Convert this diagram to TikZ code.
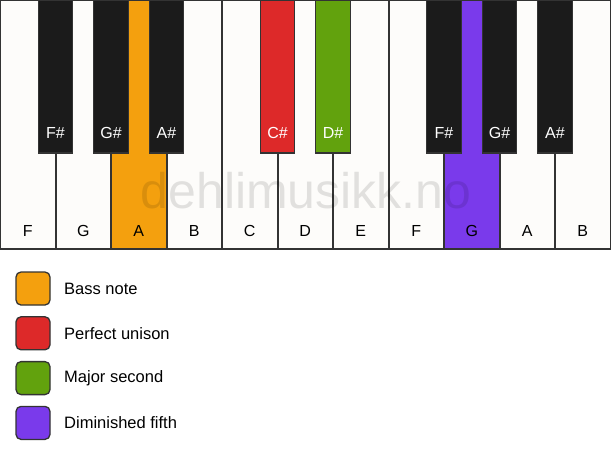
\documentclass[tikz,border=0pt]{standalone}
\usepackage{fontspec}
\setmainfont{Liberation Sans}
\definecolor{keywhite}{HTML}{FDFCFA}
\definecolor{keyblack}{HTML}{1B1B1B}
\definecolor{keyline}{HTML}{333333}
\definecolor{cbass}{HTML}{F4A00E}
\definecolor{cuni}{HTML}{DD2929}
\definecolor{csec}{HTML}{62A20D}
\definecolor{cdim}{HTML}{7A3AEB}
\tikzset{
  whitekey/.style={draw=keyline,line width=1.3pt,fill=keywhite},
  blackkey/.style={draw=keyline,line width=1.3pt,fill=keyblack},
  wlabel/.style={font=\fontsize{16}{16}\selectfont,text=black,anchor=base},
  blabel/.style={font=\fontsize{16}{16}\selectfont,text=white,anchor=base},
  legbox/.style={draw=keyline,line width=1.3pt,rounded corners=5pt,minimum width=34pt,minimum height=33pt,inner sep=0pt},
  legtext/.style={font=\fontsize{16.5}{16.5}\selectfont,anchor=west,inner sep=0pt}
}
\begin{document}
\begin{tikzpicture}[x=1pt,y=-1pt]
\useasboundingbox (0,0) rectangle (611,461);
\fill[white] (0,0) rectangle (611,461);
% white keys
\def\ww{55.5}
\foreach \i/\n/\c in {0/F/keywhite,1/G/keywhite,2/A/cbass,3/B/keywhite,4/C/keywhite,5/D/keywhite,6/E/keywhite,7/F/keywhite,8/G/cdim,9/A/keywhite,10/B/keywhite}{
  \path[whitekey,fill=\c] ({\i*\ww+0.6},0.6) rectangle ({(\i+1)*\ww-0.1},249);
  \node[wlabel] (w\i) at ({(\i+0.5)*\ww},236) {\n};
}
% black keys
\foreach \b/\n/\c in {1/F\#/keyblack,2/G\#/keyblack,3/A\#/keyblack,5/C\#/cuni,6/D\#/csec,8/F\#/keyblack,9/G\#/keyblack,10/A\#/keyblack}{
  \path[blackkey,fill=\c] ({\b*\ww-17.3},0) rectangle ({\b*\ww+17.3},153);
  \node[blabel] (b\b) at ({\b*\ww},138) {\n};
}
% watermark
\node[font=\fontsize{50}{50}\selectfont,text=black,text opacity=0.11,anchor=base,inner sep=0pt] (wm) at (306,208) {dehlimusikk.no};
% legend
\foreach \k/\c/\t in {0/cbass/Bass note,1/cuni/Perfect unison,2/csec/Major second,3/cdim/Diminished fifth}{
  \node[legbox,fill=\c] (l\k) at (33,{288.5+\k*44.8}) {};
  \node[legtext] (t\k) at (64,{288.5+\k*44.8}) {\t};
}
\end{tikzpicture}
\end{document}
